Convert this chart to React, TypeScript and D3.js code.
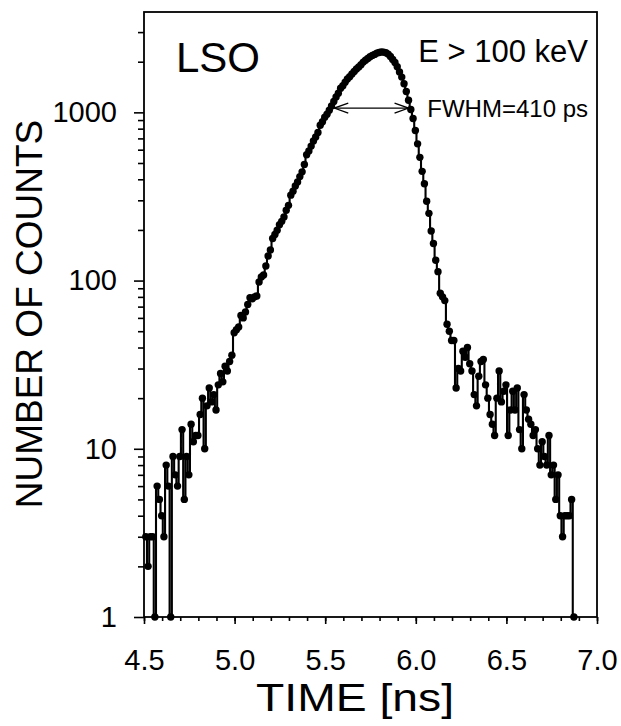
import React, { useEffect, useRef } from "react";
import * as d3 from "d3";

// histogram bins: centre of first bin and bin width, in ns
const binStart = 4.51;
const binWidth = 0.0125;

// counts per bin (8 bins per 0.1 ns)
const counts = [
  3, 2, 3, 3, 1, 6, 5, 4,
  3, 8, 6, 1, 9, 7, 6, 9,
  13, 5, 9, 7, 14, 11, 12, 12,
  16, 20, 10, 18, 23, 19, 21, 17,
  24, 28, 25, 31, 29, 33, 36, 49,
  51, 53, 62, 60, 65, 72, 79, 78,
  80, 81, 98, 105, 108, 122, 140, 152,
  178, 188, 199, 215, 225, 239, 262, 280,
  322, 340, 365, 386, 415, 443, 490, 560,
  590, 630, 675, 714, 760, 838, 880, 935,
  975, 1030, 1090, 1160, 1236, 1300, 1390, 1440,
  1510, 1580, 1630, 1690, 1750, 1810, 1860, 1920,
  1990, 2040, 2090, 2140, 2180, 2210, 2250, 2270,
  2290, 2280, 2260, 2220, 2150, 2060, 1980, 1870,
  1740, 1620, 1480, 1330, 1180, 1040, 920, 780,
  650, 540, 446, 376, 296, 251, 197, 166,
  132, 113, 84, 80, 76, 55, 50, 44,
  44, 23, 30, 29, 38, 35, 40, 32,
  29, 21, 18, 27, 33, 34, 24, 20,
  16, 14, 12, 20, 29, 19, 22, 24,
  12, 17, 22, 17, 23, 13, 10, 21,
  17, 15, 14, 12, 13, 10, 8, 11,
  9, 8, 12, 7, 8, 5, 7, 4,
  3, 4, 4, 4, 5, 1,
];

const timeMajorTicks = [4.5, 5.0, 5.5, 6.0, 6.5, 7.0];
const countMajorTicks = [1, 10, 100, 1000];
const countMinorTicks = [
  2, 3, 4, 5, 6, 7, 8, 9,
  20, 30, 40, 50, 60, 70, 80, 90,
  200, 300, 400, 500, 600, 700, 800, 900,
  2000, 3000,
];

// FWHM marker
const fwhmLeft = 5.55;
const fwhmRight = 5.96;
const fwhmLevel = 1060;

const font = "'Liberation Sans', Arial, Helvetica, sans-serif";
const W = 621;
const H = 726;

const App = () => {
  const svgRef = useRef<SVGSVGElement>(null);

  useEffect(() => {
    const svg = d3.select(svgRef.current);
    const left = 144, right = 597, top = 12, bottom = 617;

    const x = d3.scaleLinear().domain([4.5, 7.0]).range([left, right]);
    const y = d3.scaleLog().domain([1, 3950]).range([bottom, top]);

    const timeMinorTicks = d3.range(45, 71).map((d) => d / 10);

    // x axis
    svg
      .select(".x-minor")
      .attr("transform", `translate(0,${bottom})`)
      .call(
        d3.axisBottom(x).tickValues(timeMinorTicks).tickSize(4).tickSizeOuter(0).tickFormat(() => "") as any
      );
    svg
      .select(".x-major")
      .attr("transform", `translate(0,${bottom})`)
      .call(
        d3.axisBottom(x).tickValues(timeMajorTicks).tickSize(7).tickSizeOuter(0).tickPadding(25).tickFormat(d3.format(".1f")) as any
      );

    // y axis
    svg
      .select(".y-minor")
      .attr("transform", `translate(${left},0)`)
      .call(
        d3.axisLeft(y).tickValues(countMinorTicks).tickSize(6).tickSizeOuter(0).tickFormat(() => "") as any
      );
    svg
      .select(".y-major")
      .attr("transform", `translate(${left},0)`)
      .call(
        d3.axisLeft(y).tickValues(countMajorTicks).tickSize(10).tickSizeOuter(0).tickPadding(17).tickFormat(d3.format("d")) as any
      );

    svg.selectAll(".axis .domain").remove();
    svg
      .selectAll(".axis")
      .attr("font-family", font)
      .attr("font-size", 29);
    svg.selectAll(".axis line").attr("stroke", "#000").attr("stroke-width", 1.6);
    svg.selectAll(".axis text").attr("fill", "#000");

    // frame
    svg
      .select(".frame")
      .attr("x", left)
      .attr("y", top)
      .attr("width", right - left)
      .attr("height", bottom - top)
      .attr("fill", "none")
      .attr("stroke", "#000")
      .attr("stroke-width", 1.8);

    // step line
    const line = d3
      .line<number>()
      .x((d, i) => x(binStart + i * binWidth))
      .y((d) => y(d))
      .curve(d3.curveStep);

    svg
      .select(".trace")
      .datum(counts)
      .attr("d", line as any)
      .attr("fill", "none")
      .attr("stroke", "#000")
      .attr("stroke-width", 2.1);

    svg
      .select(".dots")
      .selectAll("circle")
      .data(counts)
      .join("circle")
      .attr("cx", (d, i) => x(binStart + i * binWidth))
      .attr("cy", (d) => y(d))
      .attr("r", 3.7)
      .attr("fill", "#000");

    // FWHM arrow
    const ay = y(fwhmLevel);
    const ax1 = x(fwhmLeft);
    const ax2 = x(fwhmRight);
    const head = 14, half = 5;
    svg
      .select(".fwhm")
      .selectAll("path")
      .data([
        `M${ax1},${ay}L${ax2},${ay}`,
        `M${ax1 + head},${ay - half}L${ax1},${ay}L${ax1 + head},${ay + half}`,
        `M${ax2 - head},${ay - half}L${ax2},${ay}L${ax2 - head},${ay + half}`,
      ])
      .join("path")
      .attr("d", (d) => d)
      .attr("fill", "none")
      .attr("stroke", "#000")
      .attr("stroke-width", 1.3);
  }, []);

  return (
    <svg
      ref={svgRef}
      width={W}
      height={H}
      style={{ position: "absolute", left: 0, top: 0, background: "#fff" }}
    >
      <rect width={W} height={H} fill="#fff" />
      <g className="axis x-minor" />
      <g className="axis x-major" />
      <g className="axis y-minor" />
      <g className="axis y-major" />
      <rect className="frame" />
      <path className="trace" />
      <g className="dots" />
      <g className="fwhm" />
      <text x={176} y={72} fontFamily={font} fontSize={42}>
        LSO
      </text>
      <text x={588} y={62} fontFamily={font} fontSize={31} textAnchor="end">
        E &gt; 100 keV
      </text>
      <text x={588} y={117} fontFamily={font} fontSize={24} textAnchor="end">
        FWHM=410 ps
      </text>
      <text
        transform="translate(42,314) rotate(-90)"
        fontFamily={font}
        fontSize={37}
        textAnchor="middle"
      >
        NUMBER OF COUNTS
      </text>
      <text
        x={256}
        y={711}
        fontFamily={font}
        fontSize={38}
        textLength={198}
        lengthAdjust="spacingAndGlyphs"
      >
        TIME [ns]
      </text>
    </svg>
  );
};

export default App;
